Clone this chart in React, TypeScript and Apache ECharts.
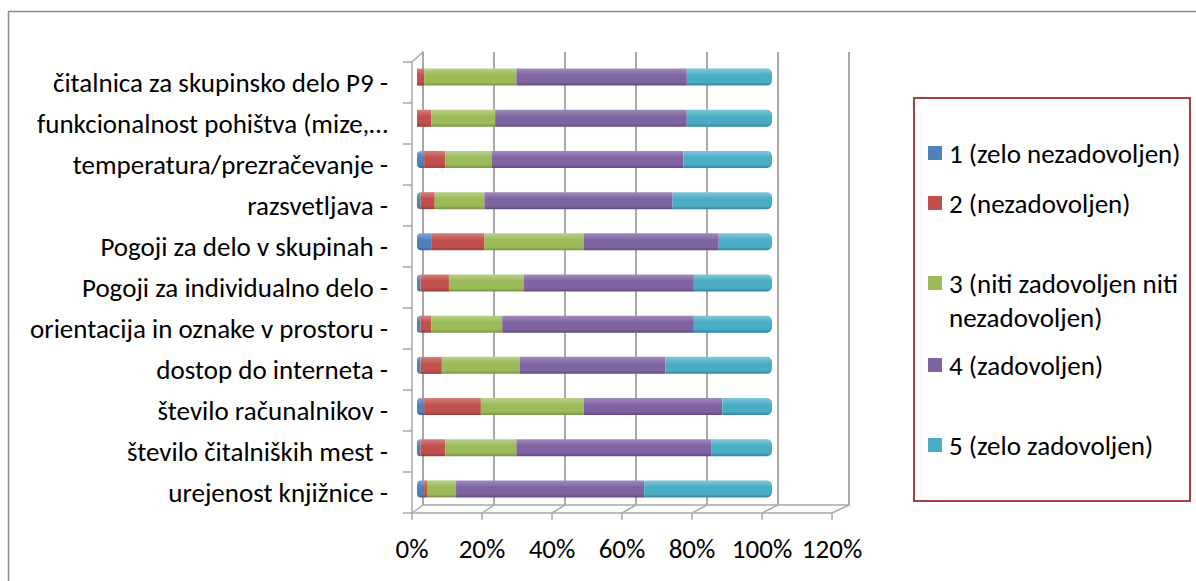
import React, { useEffect, useRef } from "react";
import * as echarts from "echarts";

// Survey items, top to bottom
const categories = [
  "čitalnica za skupinsko delo P9 -",
  "funkcionalnost pohištva (mize,…",
  "temperatura/prezračevanje -",
  "razsvetljava -",
  "Pogoji za delo v skupinah -",
  "Pogoji za individualno delo -",
  "orientacija in oznake v prostoru -",
  "dostop do interneta -",
  "število računalnikov -",
  "število čitalniških mest -",
  "urejenost knjižnice -",
];

const seriesNames = [
  "1 (zelo nezadovoljen)",
  "2 (nezadovoljen)",
  "3 (niti zadovoljen niti nezadovoljen)",
  "4 (zadovoljen)",
  "5 (zelo zadovoljen)",
];

// Share of answers (%) per rating, one value per category
const rating1 = [0, 0, 2, 1, 4, 1, 1, 1, 2, 1, 2];
const rating2 = [2, 4, 6, 4, 15, 8, 3, 6, 16, 7, 1];
const rating3 = [26, 18, 13, 14, 28, 21, 20, 22, 29, 20, 8];
const rating4 = [48, 54, 54, 53, 38, 48, 54, 41, 39, 55, 53];
const rating5 = [24, 24, 25, 28, 15, 22, 22, 30, 14, 17, 36];

const xTicks = [0, 20, 40, 60, 80, 100, 120];

const FONT = "Carlito, Lato, sans-serif";
const FONT_SIZE = 27;

const palette = [
  { base: "#4F81BD", light: "#7FA4D6", dark: "#3A6599" },
  { base: "#C0504D", light: "#D67F7C", dark: "#963C3A" },
  { base: "#9BBB59", light: "#B8D088", dark: "#789346" },
  { base: "#8064A2", light: "#A08ABD", dark: "#614A7E" },
  { base: "#4BACC6", light: "#80C7DA", dark: "#31859C" },
];

const cylinder = (c: { base: string; light: string; dark: string }) =>
  new echarts.graphic.LinearGradient(0, 0, 0, 1, [
    { offset: 0, color: c.light },
    { offset: 0.4, color: c.base },
    { offset: 0.8, color: c.base },
    { offset: 1, color: c.dark },
  ]);

const GRID_LINE = "#a9a9a9";

export default function App() {
  const ref = useRef<HTMLDivElement>(null);

  useEffect(() => {
    if (!ref.current) return;
    const chart = echarts.init(ref.current, null, { renderer: "svg" });
    const values = [rating1, rating2, rating3, rating4, rating5];

    const barSeries = seriesNames.map((name, i) => ({
      name,
      type: "bar",
      stack: "total",
      xAxisIndex: 1,
      yAxisIndex: 1,
      barWidth: 17,
      data: values[i],
      z: 3,
      itemStyle: {
        color: cylinder(palette[i]),
        borderRadius: i === 4 ? [0, 5, 5, 0] : i === 0 ? [4, 0, 0, 4] : 0,
      },
    }));

    // one legend block per rating so the rows can sit at their own heights
    const legendCenters = [153, 203, 300, 365, 445];
    const LINE = 34;
    const legends = seriesNames.map((name, i) => {
      const twoLine = i === 2;
      return {
        show: true,
        orient: "vertical",
        left: 928,
        top: twoLine ? legendCenters[i] - LINE : legendCenters[i] - FONT_SIZE / 2,
        padding: 0,
        itemWidth: 14,
        itemHeight: twoLine ? 48 : 14,
        selectedMode: false,
        data: [
          {
            name,
            icon: twoLine
              ? "path://M0,0 L14,0 L14,14 L0,14 Z M0,48 L0.01,48"
              : "rect",
            itemStyle: { color: palette[i].base },
          },
        ],
        formatter: twoLine
          ? () => "3 (niti zadovoljen niti\nnezadovoljen)"
          : undefined,
        textStyle: {
          fontFamily: FONT,
          fontSize: FONT_SIZE,
          color: "#000",
          lineHeight: twoLine ? LINE : FONT_SIZE,
          padding: [0, 0, 0, 2],
        },
      };
    });

    const option = {
      animation: false,
      backgroundColor: "#ffffff",
      textStyle: { fontFamily: FONT },
      legend: legends,
      graphic: [
        {
          type: "rect",
          shape: { x: 8.5, y: 11.5, width: 1300, height: 700 },
          style: { fill: "none", stroke: "#8c8c8c", lineWidth: 1.5 },
          silent: true,
          z: -1,
        },
        {
          type: "rect",
          shape: { x: 914, y: 98, width: 276, height: 403 },
          style: { fill: "none", stroke: "#A0413F", lineWidth: 2 },
          silent: true,
          z: -1,
        },
      ],
      grid: [
        { left: 423, top: 52, width: 426, height: 453 },
        { left: 417, top: 56.5, width: 426, height: 453 },
        { left: 412, top: 62, width: 420, height: 451 },
      ],
      xAxis: [
        {
          gridIndex: 0,
          type: "value",
          min: 0,
          max: 120,
          interval: 20,
          axisLine: { show: true, lineStyle: { color: GRID_LINE, width: 1.5 } },
          axisTick: { show: false },
          axisLabel: { show: false },
          splitLine: { show: true, lineStyle: { color: GRID_LINE, width: 2 } },
        },
        { gridIndex: 1, type: "value", min: 0, max: 120, show: false },
        {
          gridIndex: 2,
          type: "value",
          min: 0,
          max: 120,
          interval: 20,
          axisLine: { show: true, lineStyle: { color: GRID_LINE, width: 1.5 } },
          axisTick: { show: true, length: 7, lineStyle: { color: GRID_LINE, width: 1.5 } },
          axisLabel: {
            formatter: "{value}%",
            fontSize: FONT_SIZE,
            color: "#000",
            margin: 22,
            fontFamily: FONT,
          },
          splitLine: { show: false },
        },
      ],
      yAxis: [
        {
          gridIndex: 0,
          type: "value",
          min: 0,
          max: 1,
          axisLine: { show: true, lineStyle: { color: GRID_LINE, width: 1.5 } },
          axisTick: { show: false },
          axisLabel: { show: false },
          splitLine: { show: false },
        },
        {
          gridIndex: 1,
          type: "category",
          data: categories,
          inverse: true,
          show: false,
        },
        {
          gridIndex: 2,
          type: "category",
          data: categories,
          inverse: true,
          axisLine: { show: true, lineStyle: { color: GRID_LINE, width: 1.5 } },
          axisTick: { show: true, length: 9, lineStyle: { color: GRID_LINE, width: 1.5 } },
          axisLabel: {
            fontSize: FONT_SIZE,
            color: "#000",
            margin: 24,
            fontFamily: FONT,
          },
          splitLine: { show: false },
        },
      ],
      series: [
        {
          // floor edges joining the back wall to the front axis
          type: "custom",
          xAxisIndex: 0,
          yAxisIndex: 0,
          silent: true,
          z: 1,
          data: xTicks.map((v) => [v, 0]),
          renderItem: (_params: any, api: any) => {
            const v = api.value(0);
            const back = api.coord([v, 0]);
            const step = v / 20;
            const style = { stroke: GRID_LINE, lineWidth: 1.5 };
            const children: any[] = [
              {
                type: "line",
                shape: { x1: back[0], y1: back[1], x2: back[0] - 11 - step, y2: back[1] + 8 },
                style,
              },
            ];
            if (v === 0) {
              const top = api.coord([0, 1]);
              children.push({
                type: "line",
                shape: { x1: top[0], y1: top[1], x2: top[0] - 11, y2: top[1] + 10 },
                style,
              });
            }
            return { type: "group", children };
          },
        },
        ...barSeries,
      ],
    };

    chart.setOption(option as any);
    return () => chart.dispose();
  }, []);

  return (
    <div
      ref={ref}
      style={{ position: "absolute", left: 0, top: 0, width: 1196, height: 581 }}
    />
  );
}
